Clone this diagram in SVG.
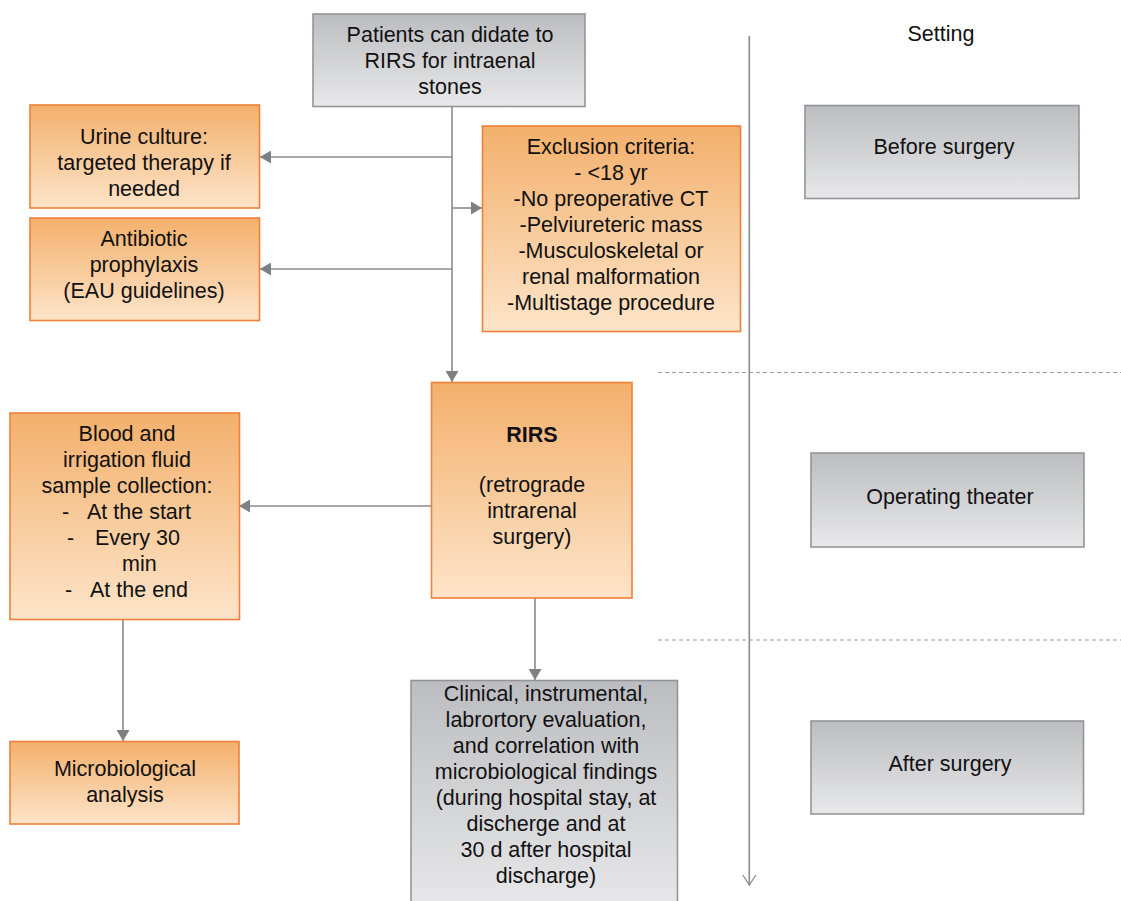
<svg xmlns="http://www.w3.org/2000/svg" width="1121" height="901" viewBox="0 0 1121 901">
<defs>
<linearGradient id="gOr" x1="0" y1="0" x2="0" y2="1">
<stop offset="0" stop-color="#f3b06c"/>
<stop offset="1" stop-color="#fde4c9"/>
</linearGradient>
<linearGradient id="gGr" x1="0" y1="0" x2="0" y2="1">
<stop offset="0" stop-color="#bcbdc0"/>
<stop offset="1" stop-color="#e8e8ea"/>
</linearGradient>
<marker id="ah" markerUnits="userSpaceOnUse" markerWidth="12" markerHeight="13" refX="11" refY="6.5" orient="auto" viewBox="0 0 12 13">
<path d="M0,0 L11,6.5 L0,13 z" fill="#7f8084"/>
</marker>
<marker id="ao" markerUnits="userSpaceOnUse" markerWidth="14" markerHeight="16" refX="11" refY="8" orient="auto" viewBox="0 0 14 16">
<path d="M1,1.5 L11,8 L1,14.5" fill="none" stroke="#8d8e91" stroke-width="1.3"/>
</marker>
<style>
.or{fill:url(#gOr);stroke:#ef803a;stroke-width:1.6}
.gr{fill:url(#gGr);stroke:#939598;stroke-width:1.6}
text{font-family:"Liberation Sans",Arial,Helvetica,sans-serif;font-size:21.5px;fill:#111}
.c{text-anchor:middle}
.con{stroke:#898a8d;stroke-width:1.6;fill:none}
.dash{stroke:#9a9b9e;stroke-width:1.1;stroke-dasharray:4 3;fill:none}
</style>
</defs>

<g id="connectors">
<line class="con" x1="452" y1="107" x2="452" y2="382" marker-end="url(#ah)"/>
<line class="con" x1="452" y1="157" x2="260" y2="157" marker-end="url(#ah)"/>
<line class="con" x1="452" y1="269" x2="260" y2="269" marker-end="url(#ah)"/>
<line class="con" x1="452" y1="208" x2="482" y2="208" marker-end="url(#ah)"/>
<line class="con" x1="431" y1="506" x2="239" y2="506" marker-end="url(#ah)"/>
<line class="con" x1="123" y1="620" x2="123" y2="741" marker-end="url(#ah)"/>
<line class="con" x1="535" y1="598" x2="535" y2="680" marker-end="url(#ah)"/>
<line class="con" x1="749.3" y1="36" x2="749.3" y2="885" stroke-width="1.4" marker-end="url(#ao)"/>
<line class="dash" x1="658" y1="372.5" x2="1121" y2="372.5"/>
<line class="dash" x1="658" y1="640" x2="1121" y2="640"/>
</g>

<g id="start">
<rect class="gr" x="313" y="14" width="272" height="92.5"/>
<text class="c" x="450" y="42">Patients can didate to</text>
<text class="c" x="450" y="68">RIRS for intraenal</text>
<text class="c" x="450" y="94">stones</text>
</g>

<g id="urine">
<rect class="or" x="30" y="105" width="229.5" height="103"/>
<text class="c" x="144" y="144">Urine culture:</text>
<text class="c" x="144" y="170">targeted therapy if</text>
<text class="c" x="144" y="196">needed</text>
</g>

<g id="antibiotic">
<rect class="or" x="30" y="218" width="229.5" height="102.5"/>
<text class="c" x="144" y="246">Antibiotic</text>
<text class="c" x="144" y="272">prophylaxis</text>
<text class="c" x="144" y="298">(EAU guidelines)</text>
</g>

<g id="exclusion">
<rect class="or" x="482.5" y="126" width="258" height="205.5"/>
<text class="c" x="611" y="154">Exclusion criteria:</text>
<text class="c" x="611" y="180">- &lt;18 yr</text>
<text class="c" x="611" y="206">-No preoperative CT</text>
<text class="c" x="611" y="232">-Pelviureteric mass</text>
<text class="c" x="611" y="258">-Musculoskeletal or</text>
<text class="c" x="611" y="284">renal malformation</text>
<text class="c" x="611" y="310">-Multistage procedure</text>
</g>

<g id="rirs">
<rect class="or" x="431.5" y="382.5" width="200.5" height="215.5"/>
<text class="c" x="532" y="442" font-weight="bold">RIRS</text>
<text class="c" x="532" y="492">(retrograde</text>
<text class="c" x="532" y="518">intrarenal</text>
<text class="c" x="532" y="544">surgery)</text>
</g>

<g id="blood">
<rect class="or" x="10" y="413" width="229.5" height="206.5"/>
<text class="c" x="127" y="441">Blood and</text>
<text class="c" x="127" y="467">irrigation fluid</text>
<text class="c" x="127" y="493">sample collection:</text>
<text x="62" y="519">-</text><text x="87" y="519">At the start</text>
<text x="67" y="545">-</text><text x="95" y="545">Every 30</text>
<text x="122" y="571">min</text>
<text x="65" y="597">-</text><text x="90" y="597">At the end</text>
</g>

<g id="micro">
<rect class="or" x="10" y="741.5" width="229" height="82.5"/>
<text class="c" x="125" y="776">Microbiological</text>
<text class="c" x="125" y="802">analysis</text>
</g>

<g id="clinical">
<rect class="gr" x="411" y="680.5" width="266.5" height="230"/>
<text class="c" x="546" y="701">Clinical, instrumental,</text>
<text class="c" x="546" y="727">labrortory evaluation,</text>
<text class="c" x="546" y="753">and correlation with</text>
<text class="c" x="546" y="779">microbiological findings</text>
<text class="c" x="546" y="805">(during hospital stay, at</text>
<text class="c" x="546" y="831">discherge and at</text>
<text class="c" x="546" y="857">30 d after hospital</text>
<text class="c" x="546" y="883">discharge)</text>
</g>

<g id="setting">
<text class="c" x="941" y="41">Setting</text>
</g>

<g id="before">
<rect class="gr" x="805" y="105.5" width="274" height="93"/>
<text class="c" x="944" y="154">Before surgery</text>
</g>

<g id="operating">
<rect class="gr" x="811" y="453" width="273" height="94"/>
<text class="c" x="950" y="504">Operating theater</text>
</g>

<g id="after">
<rect class="gr" x="811" y="721" width="272.5" height="93"/>
<text class="c" x="950" y="771">After surgery</text>
</g>
</svg>
